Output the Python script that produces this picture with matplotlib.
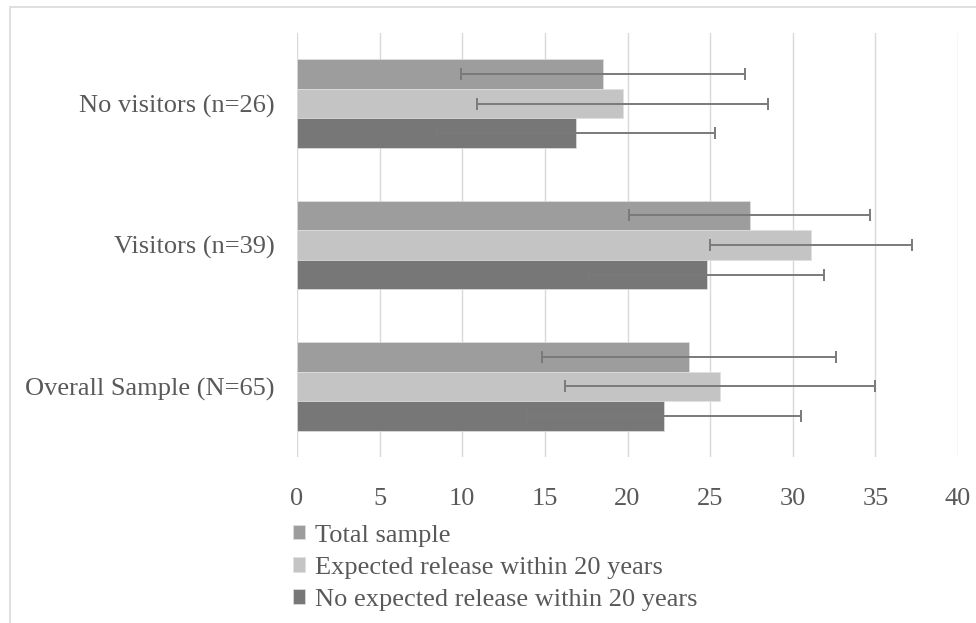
import matplotlib.pyplot as plt
from matplotlib.patches import Rectangle
import numpy as np

# Data
categories = ['Overall Sample (N=65)', 'Visitors (n=39)', 'No visitors (n=26)']
series_names = ['Total sample', 'Expected release within 20 years',
                'No expected release within 20 years']
total = [23.7, 27.4, 18.5]
total_err = [8.9, 7.3, 8.6]
expected = [25.6, 31.1, 19.7]
expected_err = [9.4, 6.1, 8.8]
not_expected = [22.2, 24.8, 16.9]
not_expected_err = [8.3, 7.1, 8.4]

colors = ['#9d9d9d', '#c4c4c4', '#777777']
text_color = '#595959'
fs = 19

plt.rcParams['font.family'] = ['Liberation Serif', 'DejaVu Serif']

fig = plt.figure(figsize=(9.76, 6.23), dpi=100)
# outer chart border
fig.patches.append(Rectangle((10 / 976, -0.02), 1.0, 1.0 - 7 / 623 + 0.02,
                             transform=fig.transFigure, fill=False,
                             edgecolor='#d9d9d9', linewidth=1.2))

ax = fig.add_axes([297 / 976, 1 - 457 / 623, (958 - 297) / 976, (457 - 33) / 623])

y = np.arange(len(categories))
h = 0.209
series = [(total, total_err), (expected, expected_err), (not_expected, not_expected_err)]
offsets = [h, 0, -h]
for (vals, errs), off, col, name in zip(series, offsets, colors, series_names):
    ax.barh(y + off, vals, height=h, color=col, edgecolor='#e0e0e0',
            linewidth=0.5, label=name, zorder=2)
    ax.errorbar(vals, y + off, xerr=errs, fmt='none', ecolor='#7a7a7a',
                elinewidth=1.4, capsize=4, capthick=1.4, zorder=3)

ax.set_xlim(0, 40)
ax.set_ylim(-0.5, 2.5)
ax.set_xticks(range(0, 41, 5))
ax.set_yticks(y)
ax.set_yticklabels(categories)
ax.grid(axis='x', color='#d9d9d9', linewidth=1, zorder=0)
ax.set_axisbelow(True)
for s in ax.spines.values():
    s.set_visible(False)
ax.tick_params(axis='both', length=0, labelsize=fs, labelcolor=text_color)
ax.tick_params(axis='x', pad=22)
ax.tick_params(axis='y', pad=16)

leg = ax.legend(loc='upper left', bbox_to_anchor=(-0.022, -0.135), frameon=False,
                fontsize=fs, handlelength=0.45, handleheight=0.45,
                handletextpad=0.38, labelspacing=0.38, borderaxespad=0)
for t in leg.get_texts():
    t.set_color(text_color)

plt.savefig('out.png', dpi=100)
